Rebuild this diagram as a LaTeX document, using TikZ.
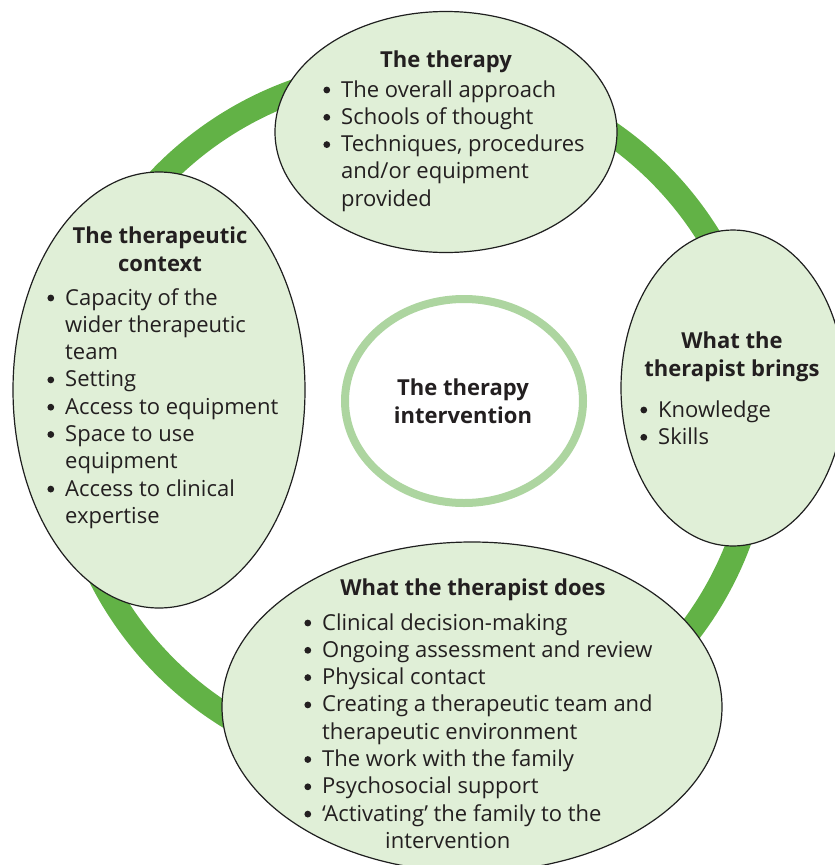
\documentclass[tikz,border=0pt]{standalone}
\usepackage{fontspec}
\setmainfont{Open Sans}
\usetikzlibrary{shapes.geometric}
\definecolor{ringgreen}{HTML}{62B246}
\definecolor{paleg}{HTML}{E0EFD7}
\definecolor{midg}{HTML}{ADD5A0}
\definecolor{txt}{HTML}{231F20}
\newcommand{\bu}{\llap{\tikz[baseline=0pt,x=1pt,y=1pt]\fill[txt] (0,7) circle[radius=3.4pt];\hspace{11pt}}}
\newcommand{\blist}[1]{\begin{tabular}[t]{@{}l@{}}#1\end{tabular}}
\newcommand{\ctitle}[1]{\begin{tabular}[t]{@{}c@{}}#1\end{tabular}}
\begin{document}
\begin{tikzpicture}[x=1pt,y=-1pt,
  bubble/.style={ellipse, draw=black!88, line width=1.2pt, fill=paleg, inner sep=0pt},
  body/.style={text=txt, font=\fontsize{22}{27.3}\selectfont, anchor=base west, inner sep=0pt},
  head/.style={text=txt, font=\bfseries\fontsize{22}{28}\selectfont, anchor=base, inner sep=0pt},
]
\useasboundingbox (0,0) rectangle (835,865);
\coordinate (ringc) at (412,420);
\draw[ringgreen, line width=24pt] (ringc) circle[radius=349pt];

\node[bubble, minimum width=342pt, minimum height=241pt] (top) at (446,132) {};
\node[bubble, minimum width=292pt, minimum height=436pt] (left) at (159,390) {};
\node[bubble, minimum width=224pt, minimum height=316pt] (right) at (733,388) {};
\node[bubble, minimum width=500pt, minimum height=330pt] (bottom) at (472,707) {};
\node[ellipse, draw=midg, line width=8pt, fill=white, inner sep=0pt,
      minimum width=238pt, minimum height=204pt] (core) at (464,401) {};

% top
\node[head] (toptitle) at (446,67) {\ctitle{The therapy}};
\node[body] (toplist) at (341,97) {\blist{\bu The overall approach\\ \bu Schools of thought\\ \bu Techniques, procedures\\ and/or equipment\\ provided}};

% left
\node[head] (lefttitle) at (160,243) {\ctitle{The therapeutic\\ context}};
\node[body] (leftlist) at (65,305) {\blist{\bu Capacity of the\\ wider therapeutic\\ team\\ \bu Setting\\ \bu Access to equipment\\ \bu Space to use\\ equipment\\ \bu Access to clinical\\ expertise}};

% right
\node[head] (righttitle) at (732,348) {\ctitle{What the\\ therapist brings}};
\node[body] (rightlist) at (658,417) {\blist{\bu Knowledge\\ \bu Skills}};

% centre
\node[head] (coretitle) at (463,395) {\ctitle{The therapy\\ intervention}};

% bottom
\node[head] (bottomtitle) at (473,595) {\ctitle{What the therapist does}};
\node[body] (bottomlist) at (322,630) {\blist{\bu Clinical decision-making\\ \bu Ongoing assessment and review\\ \bu Physical contact\\ \bu Creating a therapeutic team and\\ therapeutic environment\\ \bu The work with the family\\ \bu Psychosocial support\\ \bu ‘Activating’ the family to the\\ \hspace*{63pt}intervention}};
\end{tikzpicture}
\end{document}
